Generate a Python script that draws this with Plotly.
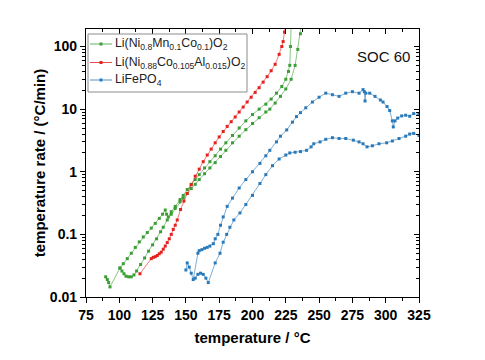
import plotly.graph_objects as go

# ---------------- data ----------------
nmc_a_x = [100.5, 103, 106, 109, 112, 115, 118, 121, 124, 127, 130, 132.5, 134.5, 135.5, 136.8, 139, 142,
           145.6, 148, 151, 154, 157, 160, 164, 168, 172, 176, 180, 185, 190, 195, 200, 205, 210, 214, 218,
           222, 225, 227, 228, 228.5, 229]
nmc_a_y = [0.029, 0.034, 0.041, 0.05, 0.062, 0.076, 0.091, 0.107, 0.126, 0.15, 0.18, 0.21, 0.245, 0.21, 0.19,
           0.23, 0.28, 0.36, 0.42, 0.52, 0.63, 0.75, 0.9, 1.15, 1.45, 1.8, 2.3, 2.9, 3.8, 5.0, 6.5, 8.2, 10,
           12, 14.5, 18, 23, 30, 40, 50, 100, 210]

nmc_b_x = [89.8, 91, 92, 93, 100.5, 102, 103.5, 105, 107, 109, 111, 113, 116, 119, 122, 125, 128, 131, 133,
           136, 139, 142, 145.6, 148, 151, 154, 157, 160, 164, 168, 172, 176, 180, 185, 190, 195, 200, 205,
           210, 213, 217, 221, 225, 229, 232, 234, 236, 237]
nmc_b_y = [0.021, 0.019, 0.017, 0.0145, 0.029, 0.026, 0.0235, 0.0215, 0.021, 0.021, 0.0225, 0.026, 0.033,
           0.042, 0.054, 0.068, 0.085, 0.11, 0.13, 0.17, 0.21, 0.26, 0.33, 0.38, 0.45, 0.54, 0.63, 0.75, 0.93,
           1.15, 1.4, 1.75, 2.2, 2.9, 3.7, 4.7, 5.9, 7.3, 9.0, 10, 12.5, 16, 21, 30, 50, 90, 160, 250]

nca_x = [115.5, 124, 125.5, 127, 128.5, 130, 131.5, 133, 134.5, 136, 137.5, 139, 140.5, 142, 143.5, 146,
         148.5, 151, 154, 157, 160, 163, 166, 169, 172, 175, 178, 181, 184, 187, 190, 193, 196, 199, 202,
         205, 208, 211, 214, 217, 220, 222, 223, 224, 225]
nca_y = [0.0235, 0.041, 0.043, 0.044, 0.046, 0.049, 0.052, 0.058, 0.065, 0.074, 0.085, 0.1, 0.12, 0.14,
         0.17, 0.25, 0.34, 0.45, 0.62, 0.85, 1.1, 1.45, 1.85, 2.3, 2.9, 3.6, 4.4, 5.3, 6.3, 7.5, 9.0, 10.8,
         13, 15.5, 18.5, 22, 27, 33, 41, 52, 75, 100, 120, 170, 230]

lfp_a_x = [150, 151, 152.5, 154, 155.5, 159, 160, 162, 164, 166, 168, 170.6, 172, 174, 176, 178, 181, 185,
           190, 195, 200, 205.6, 210, 213, 218, 221, 225.7, 230, 233, 236, 240, 245, 250, 255, 260, 265,
           270, 275, 280, 283, 284, 284.5, 285, 288, 292, 296, 298, 301, 303, 305, 305.7, 307, 309, 312,
           315, 318, 321, 325]
lfp_a_y = [0.027, 0.035, 0.03, 0.024, 0.019, 0.05, 0.055, 0.057, 0.06, 0.062, 0.065, 0.071, 0.085, 0.1,
           0.14, 0.19, 0.28, 0.38, 0.55, 0.75, 1.0, 1.36, 1.8, 2.2, 3.0, 3.7, 4.66, 6.2, 7.6, 8.8, 10.5,
           13, 15.5, 18, 17, 16, 18, 19, 18, 20.5, 19, 13.5, 18, 18, 16, 14, 13, 11, 9.5, 6.5, 5.2, 6.5,
           7.2, 7.8, 8.0, 7.7, 8.5, 8.2]

lfp_b_x = [157, 159, 161, 163, 165, 166.8, 172, 175.6, 178, 180.6, 183, 186, 190.6, 195, 200, 205.6, 210,
           215, 220, 225, 228, 232, 236, 240.6, 244, 246, 250.7, 255, 260, 265, 270, 275.7, 280, 283, 286,
           290, 295, 300.7, 305, 310, 315, 318, 321, 325]
lfp_b_y = [0.02, 0.023, 0.024, 0.023, 0.02, 0.017, 0.035, 0.05, 0.075, 0.1, 0.13, 0.17, 0.22, 0.3, 0.42,
           0.65, 0.9, 1.25, 1.6, 1.85, 2.0, 2.05, 2.1, 2.2, 2.5, 2.8, 3.0, 3.3, 3.5, 3.4, 3.4, 3.2, 3.0, 2.8,
           2.5, 2.6, 2.8, 2.9, 3.1, 3.4, 3.7, 4.0, 4.1, 3.8]

legend_labels = [
    "Li(Ni<sub>0.8</sub>Mn<sub>0.1</sub>Co<sub>0.1</sub>)O<sub>2</sub>",
    "Li(Ni<sub>0.88</sub>Co<sub>0.105</sub>Al<sub>0.015</sub>)O<sub>2</sub>",
    "LiFePO<sub>4</sub>",
]
x_ticks = [75, 100, 125, 150, 175, 200, 225, 250, 275, 300, 325]
y_ticks = [0.01, 0.1, 1, 10, 100]
y_tick_text = ["0.01", "0.1", "1", "10", "100"]
y_minor = [m * 10 ** e for e in range(-2, 3) for m in range(2, 10)]
x_minor = [75 + 12.5 * i for i in range(21)]

GREEN = "#3a9e35"
RED = "#e3211f"
BLUE = "#2a79b8"
COLORS = [GREEN, RED, BLUE]
FONT = "Arial, Liberation Sans, sans-serif"

# target plot-area geometry, in page pixels; the page body adds an 8px offset
OFF = 8
W, H = 485, 360
PL, PR, PT, PB = 86, 419, 29, 297          # plot area edges on the page
ML, MT = PL - OFF, PT - OFF
PW, PH = PR - PL, PB - PT
MR, MB = W - ML - PW, H - MT - PH


def px(xp):  # page x pixel -> paper
    return (xp - PL) / PW


def py(yp):  # page y pixel -> paper
    return (PB - yp) / PH


fig = go.Figure()


def add(x, y, color, name):
    fig.add_trace(go.Scatter(
        x=x, y=y, mode="lines+markers", name=name, showlegend=False,
        line=dict(color=color, width=0.6),
        marker=dict(symbol="square", size=3, color=color, line=dict(width=0)),
    ))


add(nmc_b_x, nmc_b_y, GREEN, legend_labels[0])
add(nmc_a_x, nmc_a_y, GREEN, legend_labels[0])
add(nca_x, nca_y, RED, legend_labels[1])
add(lfp_a_x, lfp_a_y, BLUE, legend_labels[2])
add(lfp_b_x, lfp_b_y, BLUE, legend_labels[2])

XR = [75, 325]
YR = [-2, 2.28]

# ---- legend box drawn by hand (to match compact Origin legend) ----
shapes = [dict(type="rect", xref="paper", yref="paper", x0=px(88), x1=px(247), y0=py(92), y1=py(34),
               line=dict(color="#8c8c8c", width=1), fillcolor="white", layer="above")]
annotations = []
row_y = [44, 62.5, 80]
for lab, col, ry in zip(legend_labels, COLORS, row_y):
    shapes.append(dict(type="line", xref="paper", yref="paper", x0=px(90), x1=px(112), y0=py(ry), y1=py(ry),
                       line=dict(color=col, width=0.8), layer="above"))
    shapes.append(dict(type="rect", xref="paper", yref="paper", x0=px(99.5), x1=px(102.5),
                       y0=py(ry + 1.5), y1=py(ry - 1.5), line=dict(width=0), fillcolor=col, layer="above"))
    annotations.append(dict(text=lab, xref="paper", yref="paper", x=px(113), y=py(ry), xanchor="left",
                            yanchor="middle", showarrow=False, font=dict(size=12.3, family=FONT, color="#222")))

annotations.append(dict(text="SOC 60", x=px(383), y=py(57), xref="paper", yref="paper", showarrow=False,
                        font=dict(size=15, family=FONT, color="#111"), xanchor="center", yanchor="middle"))

fig.update_layout(
    width=W, height=H,
    margin=dict(l=ML, r=MR, t=MT, b=MB, autoexpand=False),
    paper_bgcolor="white", plot_bgcolor="white",
    font=dict(family=FONT, color="black"),
    showlegend=False,
    xaxis=dict(
        range=XR, tickvals=x_ticks, ticks="outside", ticklen=5, tickwidth=1, tickcolor="black",
        minor=dict(tickvals=x_minor, ticks="outside", ticklen=3, tickcolor="black"),
        showline=True, linecolor="black", linewidth=1.2, mirror=True, showgrid=False, zeroline=False,
        automargin=False,
        tickfont=dict(size=14, family=FONT, weight="bold"),
        title=dict(text="temperature / °C", font=dict(size=15, family=FONT, weight="bold"), standoff=10),
    ),
    yaxis=dict(
        type="log", range=YR, tickvals=y_ticks, ticktext=y_tick_text, ticks="outside", ticklen=5,
        tickwidth=1, tickcolor="black",
        minor=dict(tickvals=y_minor, ticks="outside", ticklen=3, tickcolor="black"),
        showline=True, linecolor="black", linewidth=1.2, mirror=True, showgrid=False, zeroline=False,
        automargin=False,
        tickfont=dict(size=14, family=FONT, weight="bold"),
        title=dict(text="temperature rate / (°C/min)", font=dict(size=15, family=FONT, weight="bold"),
                   standoff=0),
    ),
    xaxis2=dict(
        overlaying="x", side="top", range=XR, tickvals=x_ticks, ticks="inside", ticklen=5,
        tickcolor="black", showticklabels=False, showgrid=False, zeroline=False, automargin=False,
        minor=dict(tickvals=x_minor, ticks="inside", ticklen=3, tickcolor="black"),
    ),
    yaxis2=dict(
        overlaying="y", side="right", type="log", range=YR, tickvals=y_ticks, ticks="inside", ticklen=5,
        tickcolor="black", showticklabels=False, showgrid=False, zeroline=False, automargin=False,
        minor=dict(tickvals=y_minor, ticks="inside", ticklen=3, tickcolor="black"),
    ),
    shapes=shapes,
    annotations=annotations,
)

# invisible trace so that the overlay (top / right) axes are rendered
fig.add_trace(go.Scatter(x=[None], y=[None], xaxis="x2", yaxis="y2", showlegend=False, hoverinfo="skip"))

fig.write_html("out.html")
